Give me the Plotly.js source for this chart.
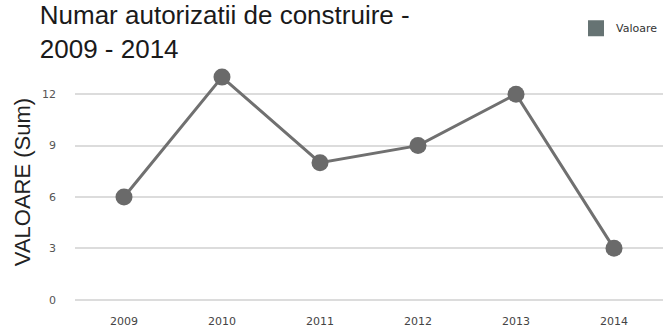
<!DOCTYPE html>
<html>
<head>
<meta charset="utf-8">
<script src="https://cdn.plot.ly/plotly-3.0.1.min.js"></script>
<style>html,body{margin:0;padding:0;background:#fff;}#chart{width:663px;height:331px;}</style>
</head>
<body>
<div id="chart"></div>
<script>
const years = ['2009', '2010', '2011', '2012', '2013', '2014'];
const values = [6, 13, 8, 9, 12, 3];
const seriesName = 'Valoare';
const yTicks = [0, 3, 6, 9, 12];

const traces = [
  {
    type: 'scatter', mode: 'lines+markers',
    x: years, y: values, name: seriesName, showlegend: false,
    line: {color: '#707070', width: 3},
    marker: {color: '#6a6a6a', size: 17},
    hoverinfo: 'x+y'
  },
  {
    type: 'scatter', mode: 'markers',
    x: [null], y: [null], name: seriesName, showlegend: true,
    marker: {color: '#667373', size: 20, symbol: 'square'}
  }
];

const layout = {
  width: 663, height: 331,
  margin: {l: 75, r: 0, t: 60, b: 27},
  paper_bgcolor: '#fff', plot_bgcolor: '#fff',
  font: {family: 'Liberation Sans, Arial, sans-serif', color: '#333'},
  title: {
    text: 'Numar autorizatii de construire -<br>2009 - 2014',
    font: {size: 26, color: '#1a1a1a', family: 'Liberation Sans, Arial, sans-serif'},
    xref: 'container', x: 0.06, xanchor: 'left',
    yref: 'container', y: 0.928, yanchor: 'bottom', pad: {t: 0, b: 0}
  },
  showlegend: true,
  legend: {
    x: 1, xanchor: 'right', y: 0.915, yref: 'container', yanchor: 'middle',
    itemsizing: 'trace',
    font: {size: 11, color: '#333', family: 'DejaVu Sans, sans-serif'},
    bgcolor: 'rgba(0,0,0,0)'
  },
  xaxis: {
    type: 'category', categoryarray: years,
    range: [-0.5, 5.5],
    showgrid: false, zeroline: false, showline: false,
    ticks: '', ticklabelstandoff: 9,
    tickfont: {size: 11, color: '#444', family: 'DejaVu Sans, sans-serif'},
    fixedrange: true
  },
  yaxis: {
    range: [-0.25, 14],
    tickvals: yTicks, ticktext: yTicks.map(String),
    showgrid: true, gridcolor: '#dcdcdc', gridwidth: 2,
    zeroline: false, showline: false, ticks: '',
    ticklabelstandoff: 18,
    tickfont: {size: 11, color: '#555', family: 'DejaVu Sans, sans-serif'},
    title: {text: 'VALOARE (Sum)', font: {size: 22, color: '#222'}, standoff: 5},
    fixedrange: true
  }
};

Plotly.newPlot('chart', traces, layout, {displayModeBar: false, staticPlot: true});
</script>
</body>
</html>
